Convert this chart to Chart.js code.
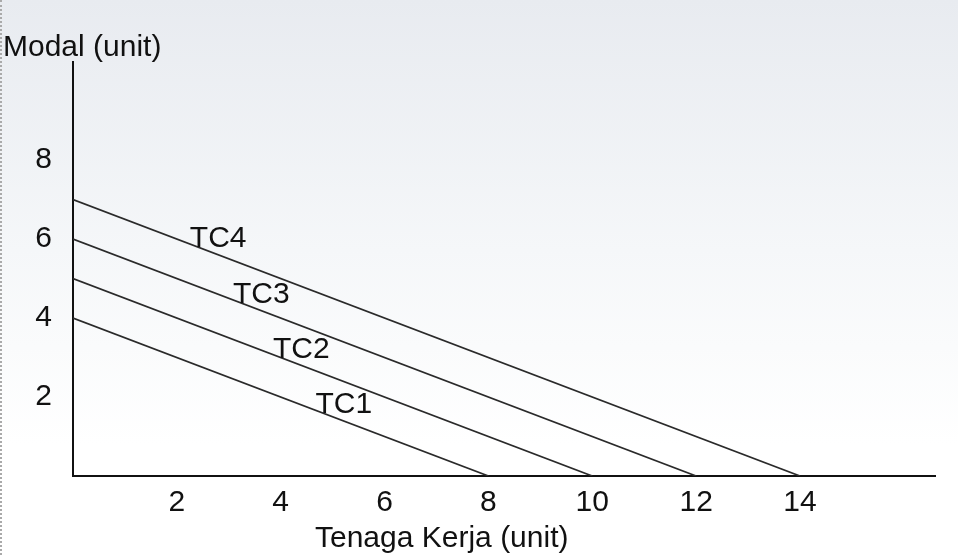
<!DOCTYPE html>
<html lang="id">
<head>
    <meta charset="UTF-8">
    <title>Kurva Isocost</title>
    <script src="https://cdn.jsdelivr.net/npm/chart.js"></script>
    <style>
        body {
            margin: 0;
            padding: 0;
            background: #fff;
        }
        .wrap {
            position: relative;
            width: 958px;
            height: 555px;
            background: linear-gradient(to bottom, #e8ebf0 0%, #f5f7f9 45%, #ffffff 80%, #ffffff 100%);
        }
        .wrap::before {
            content: '';
            position: absolute;
            left: 0;
            top: 0;
            bottom: 0;
            border-left: 2px dotted #aaa;
        }
    </style>
</head>
<body>
    <div class="wrap">
        <canvas id="isocostChart"></canvas>
    </div>
    <script>
        // garis biaya total (isocost): titik potong sumbu
        const seriesNames = ['TC1', 'TC2', 'TC3', 'TC4'];
        const laborIntercepts = [8, 10, 12, 14];   // tenaga kerja (sumbu x)
        const capitalIntercepts = [4, 5, 6, 7];    // modal (sumbu y)

        const xTicks = [2, 4, 6, 8, 10, 12, 14];
        const yTicks = [2, 4, 6, 8];

        // posisi teks label di sepanjang garis (nilai x)
        const labelAtX = [4.67, 3.85, 3.08, 2.25];

        const xTitle = 'Tenaga Kerja (unit)';
        const yTitle = 'Modal (unit)';

        const FONT = "'Liberation Sans', Arial, sans-serif";
        const INK = '#111';

        const datasets = seriesNames.map((name, i) => ({
            label: name,
            data: [
                { x: 0, y: capitalIntercepts[i] },
                { x: laborIntercepts[i], y: 0 }
            ],
            borderColor: '#2a2a2a',
            borderWidth: 1.7,
            pointRadius: 0,
            fill: false,
            tension: 0
        }));

        const textPlugin = {
            id: 'textPlugin',
            afterDatasetsDraw(chart) {
                const ctx = chart.ctx;
                const xs = chart.scales.x;
                const ys = chart.scales.y;
                ctx.save();
                ctx.fillStyle = INK;
                ctx.font = '30px ' + FONT;
                ctx.textAlign = 'left';
                ctx.textBaseline = 'alphabetic';
                seriesNames.forEach((name, i) => {
                    const vx = labelAtX[i];
                    const vy = capitalIntercepts[i] * (1 - vx / laborIntercepts[i]);
                    ctx.fillText(name, xs.getPixelForValue(vx), ys.getPixelForValue(vy) + 3);
                });
                // judul sumbu
                ctx.fillText(yTitle, 3, 56);
                ctx.fillText(xTitle, 315, 547);
                ctx.restore();
            }
        };

        function createChart() {
            const ctx = document.getElementById('isocostChart').getContext('2d');
            new Chart(ctx, {
                type: 'line',
                data: { datasets: datasets },
                plugins: [textPlugin],
                options: {
                    responsive: true,
                    maintainAspectRatio: false,
                    animation: false,
                    layout: {
                        padding: { top: 62, right: 23, bottom: 0, left: 0 }
                    },
                    plugins: {
                        legend: { display: false },
                        tooltip: { enabled: false }
                    },
                    scales: {
                        x: {
                            type: 'linear',
                            min: 0,
                            max: 16.6,
                            afterBuildTicks: scale => {
                                scale.ticks = xTicks.map(v => ({ value: v }));
                            },
                            afterFit: scale => { scale.height = 79; },
                            grid: { display: false, drawTicks: false },
                            border: { display: true, color: INK, width: 2 },
                            ticks: {
                                color: INK,
                                padding: 9,
                                maxRotation: 0,
                                autoSkip: false,
                                font: { family: FONT, size: 30 }
                            }
                        },
                        y: {
                            type: 'linear',
                            min: 0,
                            max: 10.48,
                            afterBuildTicks: scale => {
                                scale.ticks = yTicks.map(v => ({ value: v }));
                            },
                            afterFit: scale => { scale.width = 73; },
                            grid: { display: false, drawTicks: false },
                            border: { display: true, color: INK, width: 2 },
                            ticks: {
                                color: INK,
                                padding: 21,
                                autoSkip: false,
                                font: { family: FONT, size: 30 }
                            }
                        }
                    }
                }
            });
        }

        createChart();
    </script>
</body>
</html>
